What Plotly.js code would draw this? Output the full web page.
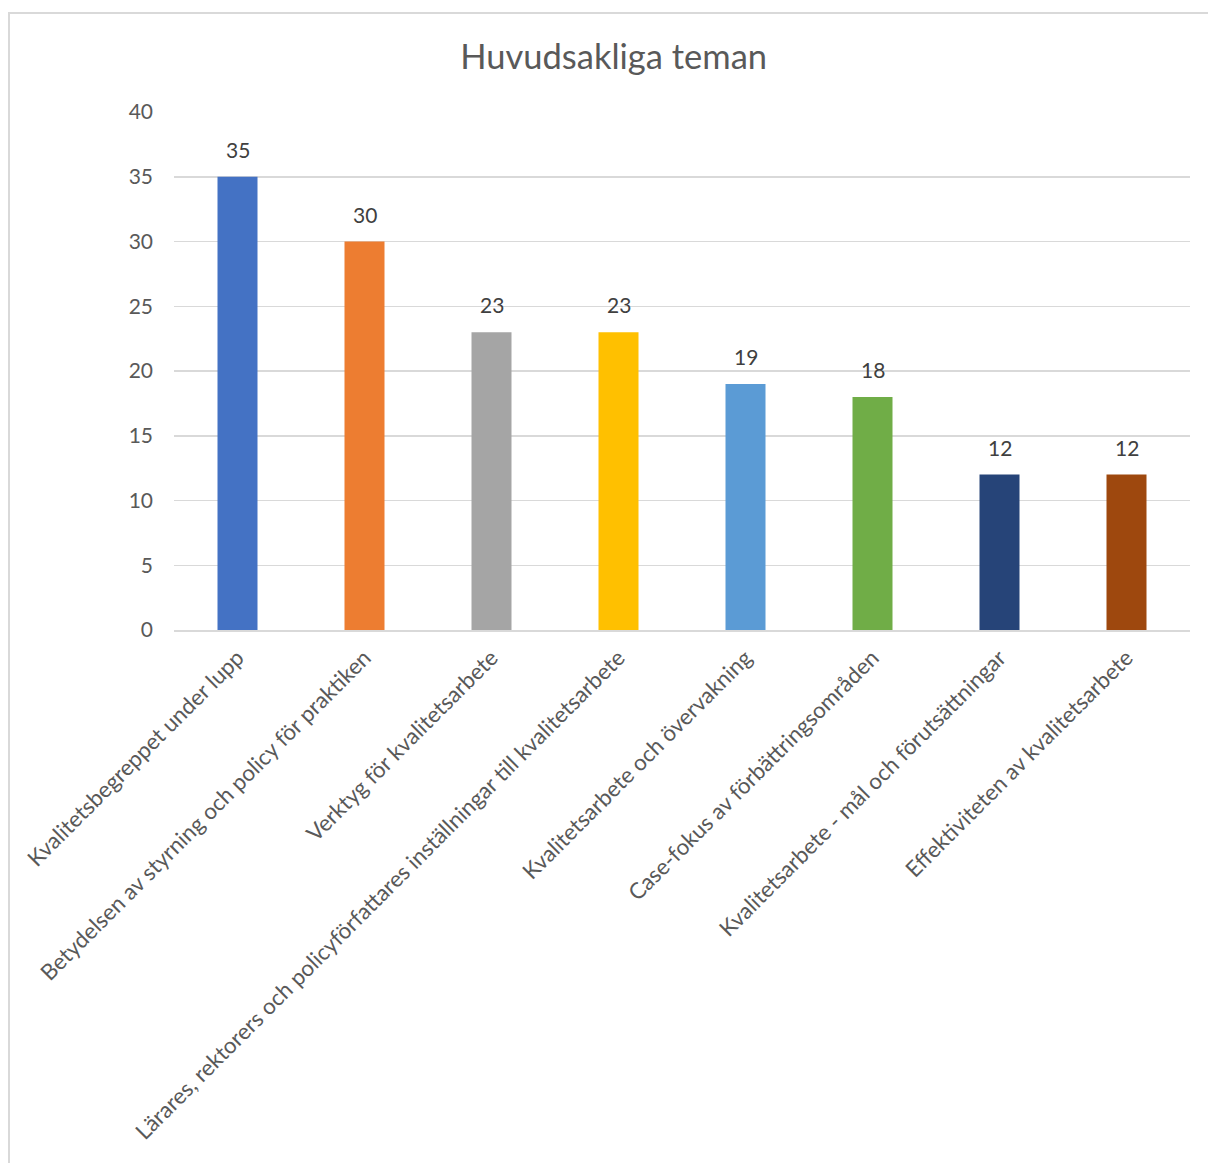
<!DOCTYPE html>
<html>
<head>
<meta charset="utf-8">
<script src="https://cdn.plot.ly/plotly-3.0.1.min.js"></script>
<style>
html,body{margin:0;padding:0;background:#fff;}
#frame{position:absolute;left:8px;top:12px;width:1210px;height:1170px;border:2px solid #d9d9d9;box-sizing:border-box;}
#chart{position:absolute;left:0;top:0;width:1208px;height:1163px;}
</style>
</head>
<body>
<div id="frame"></div>
<div id="chart"></div>
<script>
const categories = [
  "Kvalitetsbegreppet under lupp",
  "Betydelsen av styrning och policy för praktiken",
  "Verktyg för kvalitetsarbete",
  "Lärares, rektorers och policyförfattares inställningar till kvalitetsarbete",
  "Kvalitetsarbete och övervakning",
  "Case-fokus av förbättringsområden",
  "Kvalitetsarbete - mål och förutsättningar",
  "Effektiviteten av kvalitetsarbete"
];
const values = [35, 30, 23, 23, 19, 18, 12, 12];
const barColors = ["#4472c4","#ed7d31","#a5a5a5","#ffc000","#5b9bd5","#70ad47","#264478","#9e480e"];
const yTicks = [0,5,10,15,20,25,30,35,40];

const fontFam = "Lato, 'Open Sans', 'Liberation Sans', sans-serif";

const labelAnnotations = categories.map((c, i) => ({
  x: c, y: values[i], xref: 'x', yref: 'y',
  text: String(values[i]), showarrow: false,
  yanchor: 'bottom', yshift: 13,
  font: {family: fontFam, size: 21, color: '#404040'}
}));

Plotly.newPlot('chart', [{
  type: 'bar',
  x: categories,
  y: values,
  marker: {color: barColors},
  hoverinfo: 'none'
}], {
  width: 1208, height: 1163,
  margin: {l: 174, r: 18, t: 112, b: 533},
  paper_bgcolor: 'rgba(0,0,0,0)',
  plot_bgcolor: 'rgba(0,0,0,0)',
  bargap: 0.685,
  showlegend: false,
  annotations: labelAnnotations,
  title: {text: 'Huvudsakliga teman', x: 0.508, xanchor: 'center', y: 0.951, yanchor: 'middle',
          font: {family: fontFam, size: 34.5, color: '#595959'}},
  xaxis: {
    tickangle: -45,
    tickfont: {family: fontFam, size: 22.3, color: '#595959'},
    showgrid: false, showline: true, linecolor: '#d9d9d9', linewidth: 2,
    ticks: '', ticklabelstandoff: 4
  },
  yaxis: {
    range: [0, 40], tickvals: yTicks, ticktext: yTicks.map(String),
    tickfont: {family: fontFam, size: 21, color: '#595959'},
    showgrid: true, gridcolor: '#d9d9d9', gridwidth: 1.5,
    zeroline: false, showline: false, ticks: '', ticklabelstandoff: 20
  }
}, {staticPlot: true});
</script>
</body>
</html>
